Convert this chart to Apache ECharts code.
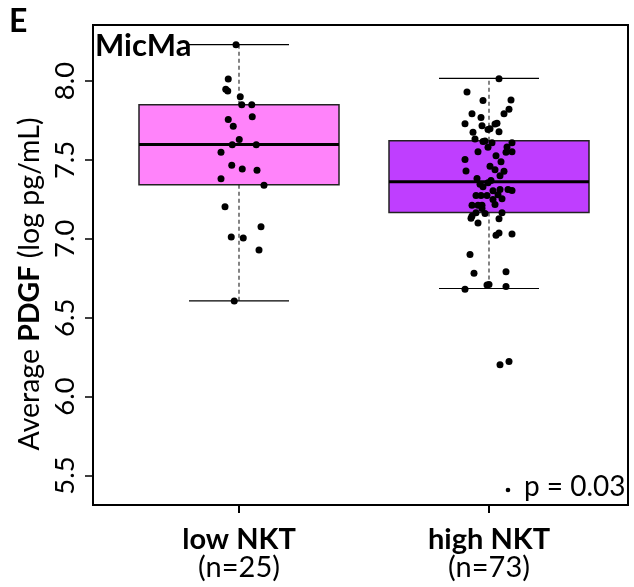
<!DOCTYPE html>
<html>
<head>
<meta charset="utf-8">
<script src="https://cdn.jsdelivr.net/npm/echarts@6/dist/echarts.min.js"></script>
<style>html,body{margin:0;padding:0;background:#fff}#c{width:634px;height:587px}</style>
</head>
<body>
<div id="c"></div>
<script>
const categories = ['low NKT', 'high NKT'];
const counts = [25, 73];
const yTicks = [5.5, 6.0, 6.5, 7.0, 7.5, 8.0];
const boxMin = [6.607, 6.685];
const boxQ1 = [7.343, 7.167];
const boxMedian = [7.598, 7.362];
const boxQ3 = [7.849, 7.621];
const boxMax = [8.23, 8.017];
const boxColors = ['#FF83FA', '#BF3EFF'];

const lowValues = [8.23, 8.013, 7.948, 7.937, 7.90, 7.849, 7.849, 7.773, 7.756, 7.714, 7.630, 7.596, 7.596, 7.548, 7.466, 7.443, 7.434, 7.38, 7.339, 7.203, 7.077, 7.011, 7.005, 6.929, 6.606];
const lowJitter = [-0.012, -0.043, -0.053, -0.045, 0.005, 0.011, 0.051, 0.053, -0.043, -0.023, 0.001, -0.027, 0.069, -0.072, -0.029, 0.013, 0.072, -0.072, 0.100, -0.056, 0.088, -0.031, 0.017, 0.080, -0.019];

const highValues = [8.015, 7.931, 7.876, 7.880, 7.821, 7.792, 7.768, 7.792, 7.729, 7.716, 7.727, 7.733, 7.693, 7.697, 7.676, 7.678, 7.632, 7.617, 7.620, 7.609, 7.609, 7.582, 7.548, 7.552, 7.552, 7.527, 7.503, 7.489, 7.430, 7.437, 7.428, 7.399, 7.382, 7.369, 7.355, 7.330, 7.304, 7.312, 7.312, 7.306, 7.274, 7.274, 7.274, 7.249, 7.254, 7.218, 7.213, 7.213, 7.213, 7.192, 7.165, 7.165, 7.131, 7.145, 7.127, 7.100, 7.037, 7.022, 7.031, 6.900, 6.782, 6.791, 6.707, 6.711, 6.681, 6.698, 6.202, 6.223, 7.160, 7.345, 7.460, 7.580, 7.280];
const highJitter = [0.040, -0.088, -0.024, 0.088, 0.080, -0.068, -0.032, 0.060, -0.096, -0.028, 0.024, 0.032, -0.004, 0.004, -0.064, 0.040, -0.056, -0.024, -0.016, 0.012, 0.092, 0.072, 0.068, 0.092, -0.044, 0.028, -0.096, 0.048, -0.092, 0.024, 0.060, 0.044, -0.048, 0.008, -0.004, -0.024, 0.016, 0.044, 0.076, 0.092, -0.052, -0.032, -0.008, 0.016, 0.052, 0.024, -0.068, -0.044, -0.028, -0.028, -0.052, 0.052, -0.072, -0.068, 0.040, -0.044, 0.040, 0.028, 0.092, -0.076, -0.060, 0.068, -0.008, 0.000, -0.096, 0.068, 0.044, 0.080, -0.016, -0.036, 0.004, -0.004, 0.036];

const FONT = 'Lato';
const boxData = categories.map((c, i) => [i + 1, boxMin[i], boxQ1[i], boxMedian[i], boxQ3[i], boxMax[i]]);
const pointData = [];
lowValues.forEach((v, k) => pointData.push([1 + lowJitter[k], v]));
highValues.forEach((v, k) => pointData.push([2 + highJitter[k], v]));

const chart = echarts.init(document.getElementById('c'), null, {renderer: 'canvas'});
chart.setOption({
  animation: false,
  backgroundColor: '#fff',
  grid: {left: 93, top: 25, width: 535, height: 480, show: true, borderColor: '#000', borderWidth: 2, backgroundColor: 'transparent'},
  xAxis: {
    type: 'value', min: 0.416, max: 2.556,
    splitLine: {show: false},
    axisLine: {show: false},
    axisTick: {show: true, length: 8, lineStyle: {color: '#000', width: 2}, customValues: [1, 2]},
    axisLabel: {
      show: true, margin: 21, customValues: [1, 2],
      formatter: v => '{b|' + categories[Math.round(v) - 1] + '}\n{r|(n=' + counts[Math.round(v) - 1] + ')}',
      rich: {
        b: {fontFamily: FONT, fontWeight: 'bold', fontSize: 29, color: '#000', lineHeight: 28},
        r: {fontFamily: FONT, fontSize: 29, color: '#000', lineHeight: 28}
      }
    }
  },
  yAxis: {
    type: 'value', min: 5.313, max: 8.355,
    splitLine: {show: false},
    axisLine: {show: false},
    axisTick: {show: true, length: 8, lineStyle: {color: '#000', width: 1.5}, customValues: yTicks},
    axisLabel: {
      show: true, rotate: 90, margin: 14, customValues: yTicks,
      formatter: v => v.toFixed(1),
      fontFamily: FONT, fontSize: 27.5, color: '#000'
    }
  },
  graphic: [
    {type: 'text', left: 9, top: 6, style: {text: 'E', fontFamily: FONT, fontWeight: 'bold', fontSize: 32, fill: '#000'}},
    {type: 'text', left: 95, top: 30, z: 100, style: {text: 'MicMa', fontFamily: FONT, fontWeight: 'bold', fontSize: 31, fill: '#000'}},
    {
      type: 'text', x: 30, y: 284, rotation: Math.PI / 2,
      style: {
        text: '{a|Average }{b|PDGF}{a| (log pg/mL)}',
        align: 'center', verticalAlign: 'middle',
        rich: {
          a: {fontFamily: FONT, fontSize: 28.5, fill: '#000'},
          b: {fontFamily: FONT, fontSize: 28.5, fontWeight: 'bold', fill: '#000'}
        }
      }
    },
    {type: 'circle', shape: {cx: 508, cy: 490, r: 2.3}, style: {fill: '#000'}},
    {type: 'text', left: 524, top: 473, style: {text: 'p = 0.03', fontFamily: FONT, fontSize: 28, fill: '#000'}}
  ],
  series: [
    {
      type: 'custom',
      data: boxData,
      encode: {x: 0, y: [1, 2, 3, 4, 5]},
      z: 2,
      renderItem: function (params, api) {
        const x = api.value(0);
        const i = params.dataIndex;
        const pMin = api.coord([x, api.value(1)]);
        const pQ1 = api.coord([x, api.value(2)]);
        const pMed = api.coord([x, api.value(3)]);
        const pQ3 = api.coord([x, api.value(4)]);
        const pMax = api.coord([x, api.value(5)]);
        const hw = api.size([0.4, 0])[0];
        const cw = api.size([0.2, 0])[0];
        const cx = pMed[0];
        return {
          type: 'group',
          children: [
            {type: 'line', shape: {x1: cx, y1: pQ3[1], x2: cx, y2: pMax[1]}, style: {stroke: '#333', lineWidth: 1.2, lineDash: [4, 3]}},
            {type: 'line', shape: {x1: cx, y1: pQ1[1], x2: cx, y2: pMin[1]}, style: {stroke: '#333', lineWidth: 1.2, lineDash: [4, 3]}},
            {type: 'line', shape: {x1: cx - cw, y1: pMax[1], x2: cx + cw, y2: pMax[1]}, style: {stroke: '#000', lineWidth: 1.2}},
            {type: 'line', shape: {x1: cx - cw, y1: pMin[1], x2: cx + cw, y2: pMin[1]}, style: {stroke: '#000', lineWidth: 1.2}},
            {type: 'rect', shape: {x: cx - hw, y: pQ3[1], width: 2 * hw, height: pQ1[1] - pQ3[1]}, style: {fill: boxColors[i], stroke: '#222', lineWidth: 1.5}},
            {type: 'line', shape: {x1: cx - hw, y1: pMed[1], x2: cx + hw, y2: pMed[1]}, style: {stroke: '#000', lineWidth: 3}}
          ]
        };
      }
    },
    {
      type: 'scatter',
      data: pointData,
      symbol: 'circle',
      symbolSize: 7,
      z: 5,
      itemStyle: {color: '#000', opacity: 1}
    }
  ]
});
</script>
</body>
</html>
